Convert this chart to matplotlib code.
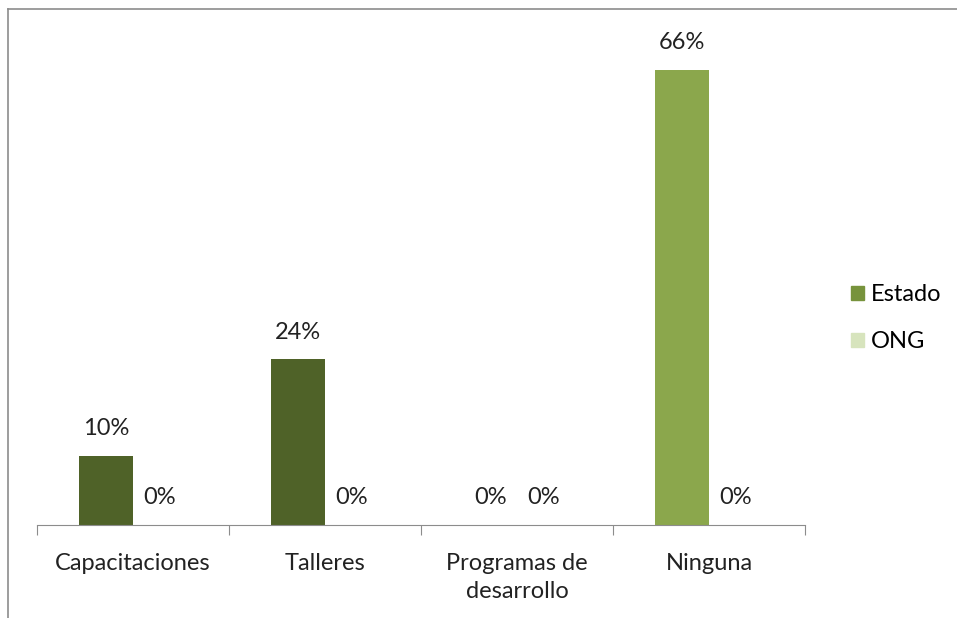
import numpy as np
import matplotlib.pyplot as plt
from matplotlib.lines import Line2D
from matplotlib.patches import Patch

plt.rcParams['font.family'] = ['Lato', 'DejaVu Sans']

categorias = ['Capacitaciones', 'Talleres', 'Programas de\ndesarrollo', 'Ninguna']
estado = [10, 24, 0, 66]
ong = [0, 0, 0, 0]
colores_estado = ['#4F6228', '#4F6228', '#4F6228', '#8BA74C']
fs = 17

fig = plt.figure(figsize=(9.57, 6.18), dpi=100)
W, H = 957, 618
ax = fig.add_axes([37 / W, (H - 525) / H, (805 - 37) / W, (525 - 42) / H])

x = np.arange(len(categorias))
w = 0.28
b1 = ax.bar(x - w / 2, estado, w, color=colores_estado)
b2 = ax.bar(x + w / 2, ong, w, color='#D7E4BD')

for rects, vals in ((b1, estado), (b2, ong)):
    for r, v in zip(rects, vals):
        ax.annotate(f'{v}%', (r.get_x() + r.get_width() / 2, v),
                    xytext=(0, 12), textcoords='offset points',
                    ha='center', va='bottom', fontsize=fs, color='#222222')

ax.set_xlim(-0.5, 3.5)
ax.set_ylim(0, 70)
ax.set_yticks([])
for s in ('top', 'right', 'left'):
    ax.spines[s].set_visible(False)
ax.spines['bottom'].set_color('#8c8c8c')
ax.set_xticks(np.arange(-0.5, 4, 1), minor=False)
ax.set_xticklabels([])
ax.tick_params(axis='x', which='major', length=7, color='#8c8c8c', direction='out')
ax.set_xticks(x, minor=True)
ax.set_xticklabels(categorias, minor=True, fontsize=fs, color='#222222', linespacing=1.4)
ax.tick_params(axis='x', which='minor', length=0, pad=20)

handles = [Patch(color='#77933C', label='Estado'), Patch(color='#D7E4BD', label='ONG')]
fig.legend(handles=handles, loc='center left', bbox_to_anchor=(830 / W, 1 - 318 / H),
           frameon=False, fontsize=fs, handlelength=0.55, handleheight=0.55,
           handletextpad=0.3, labelspacing=1.1)

# outer frame (top and left edges)
fig.add_artist(Line2D([8 / W, 1], [1 - 9 / H, 1 - 9 / H], color='#8c8c8c', lw=1.2))
fig.add_artist(Line2D([8 / W, 8 / W], [0, 1 - 9 / H], color='#8c8c8c', lw=1.2))

fig.savefig('out.png', dpi=100)
